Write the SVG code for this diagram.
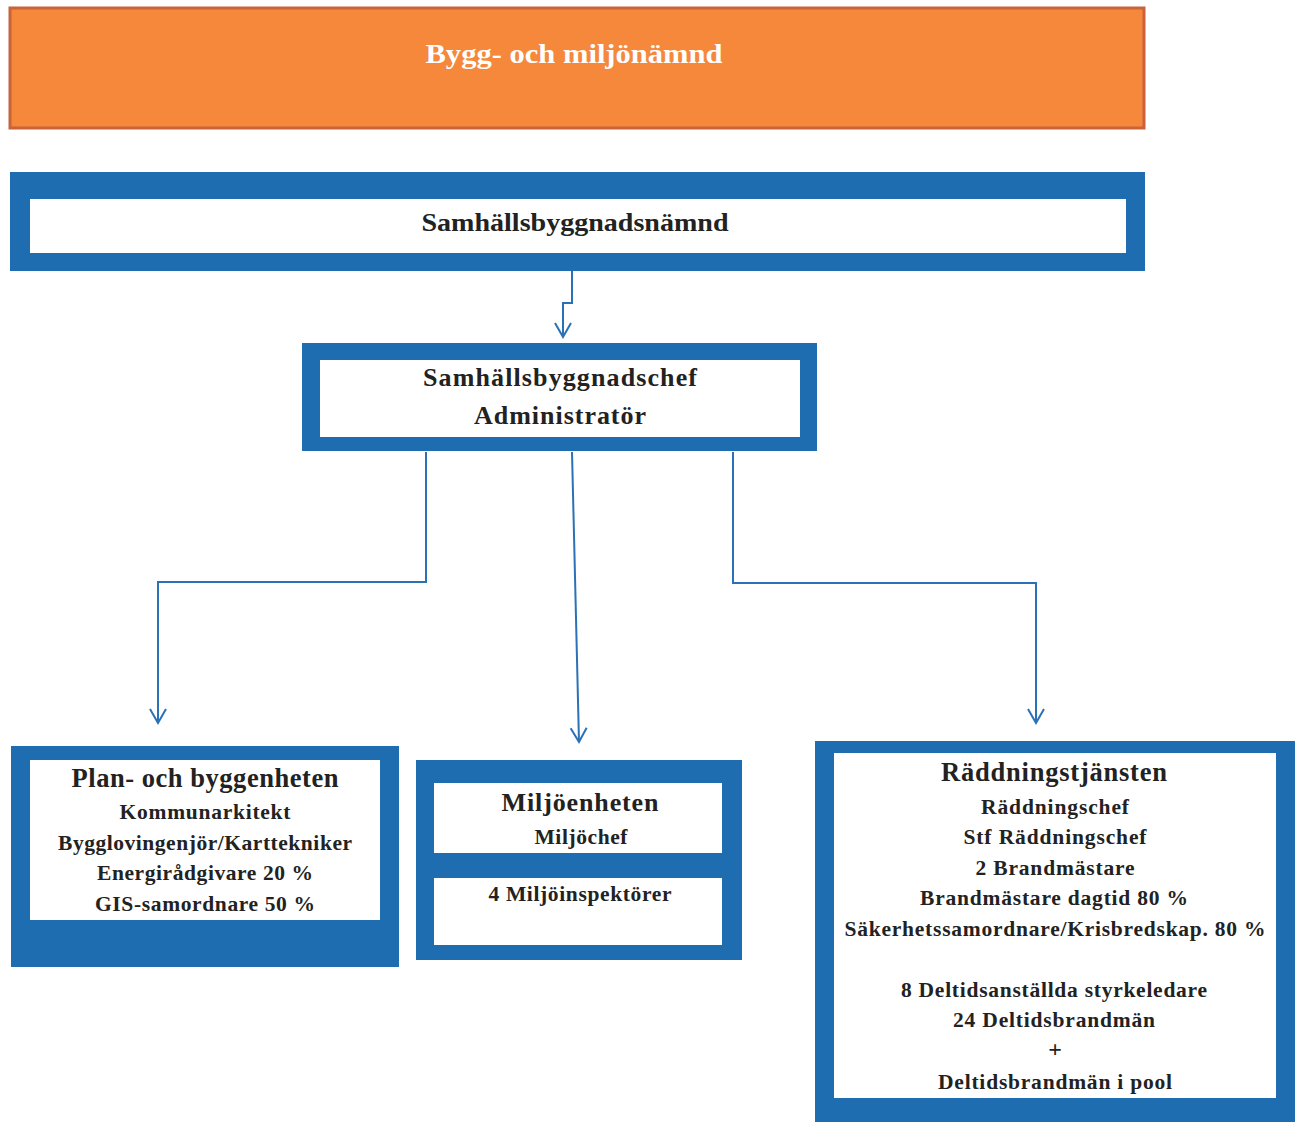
<svg xmlns="http://www.w3.org/2000/svg" width="1297" height="1122" viewBox="0 0 1297 1122">
<style>
.t{font-family:"Liberation Serif","Times New Roman",serif;font-weight:bold;fill:#222;text-anchor:middle}
.s{font-size:21.5px}
.w{fill:#fff}
.blue{fill:#1e6db0}
.c{fill:none;stroke:#2a72b5;stroke-width:2}
</style>
<defs>
<marker id="ah" markerWidth="20" markerHeight="20" refX="17" refY="10" orient="auto" markerUnits="userSpaceOnUse" viewBox="0 0 20 20">
<path d="M3,2 L17,10 L3,18" fill="none" stroke="#2a72b5" stroke-width="2"/>
</marker>
</defs>
<rect width="1297" height="1122" fill="#fff"/>
<g id="bygg">
<rect x="10" y="8" width="1134" height="120" fill="#f5883a" stroke="#c8633a" stroke-width="3"/>
<text class="t" x="574" y="63" font-size="27" style="fill:#fff" textLength="297" lengthAdjust="spacingAndGlyphs">Bygg- och miljönämnd</text>
</g>
<g id="namnd">
<rect class="blue" x="10" y="172" width="1135" height="99"/>
<rect class="w" x="30" y="199" width="1096" height="54"/>
<text class="t" x="575" y="231" font-size="26" textLength="307" lengthAdjust="spacingAndGlyphs">Samhällsbyggnadsnämnd</text>
</g>
<g id="chef">
<rect class="blue" x="302" y="343" width="515" height="108"/>
<rect class="w" x="320" y="360" width="480" height="77"/>
<text class="t" x="560" y="386" font-size="26" textLength="274" lengthAdjust="spacing">Samhällsbyggnadschef</text>
<text class="t" x="560" y="424" font-size="26" textLength="172" lengthAdjust="spacing">Administratör</text>
</g>
<g id="plan">
<rect class="blue" x="11" y="746" width="388" height="221"/>
<rect class="w" x="30" y="760" width="350" height="160"/>
<text class="t" x="205" y="787" font-size="26.5" textLength="267" lengthAdjust="spacing">Plan- och byggenheten</text>
<text class="t s" x="205" y="819" textLength="171" lengthAdjust="spacing">Kommunarkitekt</text>
<text class="t s" x="205" y="850" textLength="294" lengthAdjust="spacing">Bygglovingenjör/Karttekniker</text>
<text class="t s" x="205" y="880" textLength="216" lengthAdjust="spacing">Energirådgivare 20 %</text>
<text class="t s" x="205" y="911" textLength="220" lengthAdjust="spacing">GIS-samordnare 50 %</text>
</g>
<g id="miljo">
<rect class="blue" x="416" y="760" width="326" height="200"/>
<rect class="w" x="434" y="783" width="288" height="70"/>
<rect class="w" x="434" y="878" width="288" height="67"/>
<text class="t" x="580" y="811" font-size="26" textLength="157" lengthAdjust="spacing">Miljöenheten</text>
<text class="t s" x="581" y="844" textLength="93" lengthAdjust="spacing">Miljöchef</text>
<text class="t s" x="580" y="901" textLength="183" lengthAdjust="spacing">4 Miljöinspektörer</text>
</g>
<g id="raddning">
<rect class="blue" x="815" y="741" width="480" height="381"/>
<rect class="w" x="834" y="753" width="442" height="345"/>
<text class="t" x="1054" y="781" font-size="26.5" textLength="226" lengthAdjust="spacing">Räddningstjänsten</text>
<text class="t s" x="1055" y="814" textLength="148" lengthAdjust="spacing">Räddningschef</text>
<text class="t s" x="1055" y="844" textLength="183" lengthAdjust="spacing">Stf Räddningschef</text>
<text class="t s" x="1055" y="875" textLength="159" lengthAdjust="spacing">2 Brandmästare</text>
<text class="t s" x="1054" y="905" textLength="268" lengthAdjust="spacing">Brandmästare dagtid 80 %</text>
<text class="t s" x="1055" y="936" textLength="421" lengthAdjust="spacing">Säkerhetssamordnare/Krisbredskap. 80 %</text>
<text class="t s" x="1054" y="997" textLength="306" lengthAdjust="spacing">8 Deltidsanställda styrkeledare</text>
<text class="t s" x="1054" y="1027" textLength="202" lengthAdjust="spacing">24 Deltidsbrandmän</text>
<text class="t" x="1055" y="1057" font-size="24">+</text>
<text class="t s" x="1055" y="1089" textLength="234" lengthAdjust="spacing">Deltidsbrandmän i pool</text>
</g>
<g id="connectors">
<path class="c" d="M572,271 V303 H563 V337" marker-end="url(#ah)"/>
<path class="c" d="M426,452 V582 H158 V723" marker-end="url(#ah)"/>
<path class="c" d="M572,452 L579,742" marker-end="url(#ah)"/>
<path class="c" d="M733,452 V583 H1036 V723" marker-end="url(#ah)"/>
</g>
</svg>
